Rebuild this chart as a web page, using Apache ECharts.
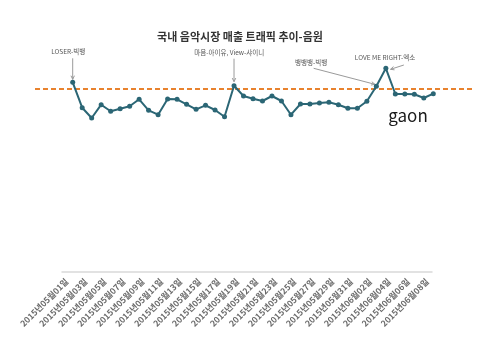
<!DOCTYPE html>
<html><head><meta charset="utf-8">
<script src="https://cdn.jsdelivr.net/npm/echarts@6/dist/echarts.min.js"></script>
<style>html,body{margin:0;padding:0;background:#fff}#c{width:480px;height:351px}</style>
</head><body><div id="c"></div>
<script>
var dates = ['2015년05월01일','2015년05월02일','2015년05월03일','2015년05월04일','2015년05월05일','2015년05월06일','2015년05월07일','2015년05월08일','2015년05월09일','2015년05월10일','2015년05월11일','2015년05월12일','2015년05월13일','2015년05월14일','2015년05월15일','2015년05월16일','2015년05월17일','2015년05월18일','2015년05월19일','2015년05월20일','2015년05월21일','2015년05월22일','2015년05월23일','2015년05월24일','2015년05월25일','2015년05월26일','2015년05월27일','2015년05월28일','2015년05월29일','2015년05월30일','2015년05월31일','2015년06월01일','2015년06월02일','2015년06월03일','2015년06월04일','2015년06월05일','2015년06월06일','2015년06월07일','2015년06월08일'];
var traffic = [189.7,164.3,154,167.3,160.7,163.3,165.7,172.7,161.7,157.3,173,172.7,167.7,162.7,166.7,162,155.3,186.3,176,173.3,171,176,171,157.3,168,168,169,169.7,167.3,163.7,163.7,170.7,185.7,203.7,178,178,177.7,174,178.3];
var average = 183;
var titleText = '국내 음악시장 매출 트래픽 추이-음원';
var notes = [
  {idx:0, text:'LOSER-빅뱅'},
  {idx:17, text:'마음-아이유, View-샤이니'},
  {idx:32, text:'뱅뱅뱅-빅뱅'},
  {idx:33, text:'LOVE ME RIGHT-엑소'}
];
var logoText = 'gaon';
var FONT = "'Noto Sans CJK KR','Noto Sans',sans-serif";
var chart = echarts.init(document.getElementById('c'));
chart.setOption({
  animation:false,
  backgroundColor:'#fff',
  title:{text:titleText,left:'center',top:26,textStyle:{fontSize:11,fontWeight:'bold',color:'#333',fontFamily:FONT}},
  grid:[
    {left:62,width:370,top:32,height:240},
    {left:72.7,width:360.6,top:32,height:240}
  ],
  xAxis:[
    {type:'category',gridIndex:0,data:dates,boundaryGap:true,
     axisLine:{lineStyle:{color:'#d9d9d9',width:1.5}},axisTick:{show:false},
     axisLabel:{interval:1,rotate:45,fontSize:8.5,fontWeight:'bold',color:'#6a6a6a',margin:8,fontFamily:FONT}},
    {type:'category',gridIndex:1,data:dates,boundaryGap:false,show:false}
  ],
  yAxis:[
    {type:'value',gridIndex:0,min:0,max:240,show:false,splitLine:{show:false}},
    {type:'value',gridIndex:1,min:0,max:240,show:false,splitLine:{show:false}}
  ],
  series:[{
    type:'line',xAxisIndex:1,yAxisIndex:1,data:traffic,
    symbol:'circle',symbolSize:5,
    lineStyle:{color:'#2b6675',width:2},itemStyle:{color:'#2b6675'}
  }]
});

function px(i,v){return chart.convertToPixel({seriesIndex:0},[i,v]);}
function arrow(x1,y1,x2,y2){
  var a=Math.atan2(y2-y1,x2-x1),L=4,s=0.45;
  return [
    {type:'line',shape:{x1:x1,y1:y1,x2:x2,y2:y2},style:{stroke:'#9a9a9a',lineWidth:1}},
    {type:'polyline',shape:{points:[[x2-L*Math.cos(a-s),y2-L*Math.sin(a-s)],[x2,y2],[x2-L*Math.cos(a+s),y2-L*Math.sin(a+s)]]},style:{stroke:'#9a9a9a',lineWidth:1,fill:null}}
  ];
}
function label(x,y,t){
  return {type:'text',x:x,y:y,style:{text:t,fill:'#555',font:'6.5px '+FONT,textAlign:'center',textVerticalAlign:'middle'}};
}
var g=[];
var avgY = chart.convertToPixel({yAxisIndex:1}, average);
g.push({type:'line',shape:{x1:35,y1:avgY,x2:474,y2:avgY},style:{stroke:'#e8822e',lineWidth:2,lineDash:[5,3]},z:0});
var p0=px(notes[0].idx,traffic[notes[0].idx]);
g=g.concat(arrow(p0[0],p0[1]-24,p0[0],p0[1]-3));
g.push(label(p0[0]-4.5,p0[1]-30.6,notes[0].text));
var p1=px(notes[1].idx,traffic[notes[1].idx]);
g=g.concat(arrow(p1[0],p1[1]-27,p1[0],p1[1]-4));
g.push(label(p1[0]-4.8,p1[1]-32.7,notes[1].text));
var p2=px(notes[2].idx,traffic[notes[2].idx]);
g=g.concat(arrow(p2[0]-62.7,p2[1]-18,p2[0]-1.5,p2[1]-2));
g.push(label(p2[0]-65.2,p2[1]-24,notes[2].text));
var p3=px(notes[3].idx,traffic[notes[3].idx]);
g=g.concat(arrow(p3[0]+18,p3[1]-3.3,p3[0]+4.7,p3[1]+1));
g.push(label(p3[0]-0.8,p3[1]-11,notes[3].text));
g.push({type:'text',x:408,y:116,style:{text:logoText,fill:'#1a1a1a',font:'17px '+FONT,textAlign:'center',textVerticalAlign:'middle'},z:11});
chart.setOption({graphic:{elements:g}});
</script>
</body></html>
